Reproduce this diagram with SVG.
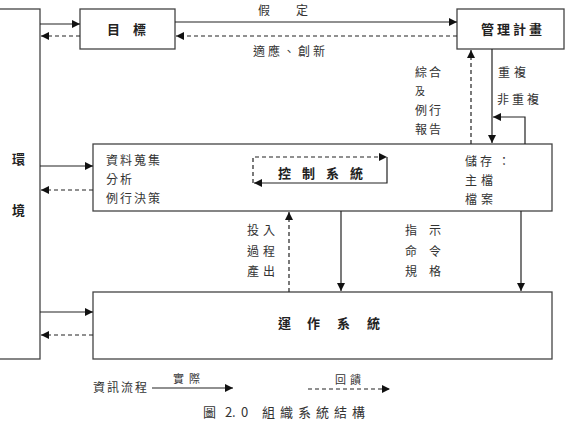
<svg xmlns="http://www.w3.org/2000/svg" width="567" height="421" viewBox="0 0 567 421">
<style>
.box{fill:#fff;stroke:#444;stroke-width:1.3}
.ln{stroke:#222;stroke-width:1.2;fill:none}
.dash{stroke-dasharray:4 3}
.t{font-family:"Noto Sans CJK TC","Noto Sans CJK SC",sans-serif;font-size:12px;fill:#333}
.b{font-weight:700;font-size:13px;fill:#222}
</style>
<defs>
<marker id="ah" viewBox="0 0 10 10" refX="10" refY="5" markerWidth="9" markerHeight="8" markerUnits="userSpaceOnUse" orient="auto"><path d="M0,0L10,5L0,10z" fill="#111"/></marker>
</defs>
<rect width="567" height="421" fill="#fff"/>
<g id="env"><rect class="box" x="-5" y="9" width="45" height="350"/><text class="t b" x="12" y="164">環</text><text class="t b" x="12" y="215">境</text></g>
<g id="goal"><rect class="box" x="80" y="9" width="95" height="40"/><text class="t b" x="107 133" y="34">目標</text></g>
<g id="plan"><rect class="box" x="457" y="9" width="107" height="40"/><text class="t b" x="481 497 513 529" y="34">管理計畫</text></g>
<g id="control"><rect class="box" x="93" y="144" width="459" height="67"/>
<text class="t" x="106 120 134 148" y="165">資料蒐集</text>
<text class="t" x="106 120" y="184">分析</text>
<text class="t" x="106 120 134 148" y="203">例行決策</text>
<text class="t b" x="278 302 326 350" y="178">控制系統</text>
<text class="t" x="465 480 498" y="166">儲存：</text>
<text class="t" x="465 481" y="185">主檔</text>
<text class="t" x="465 481" y="204">檔案</text>
</g>
<g id="operation"><rect class="box" x="93" y="292" width="459" height="67"/><text class="t b" x="278 307 337 367" y="328">運作系統</text></g>
<g id="connectors">
<path class="ln" d="M40,24H80" marker-end="url(#ah)"/>
<path class="ln dash" d="M80,36H41" marker-end="url(#ah)"/>
<path class="ln" d="M175,22H457" marker-end="url(#ah)"/>
<path class="ln dash" d="M457,36H176" marker-end="url(#ah)"/>
<path class="ln" d="M492,49V143" marker-end="url(#ah)"/>
<path class="ln" d="M525,144V117H493" marker-end="url(#ah)"/>
<path class="ln dash" d="M471,144V50" marker-end="url(#ah)"/>
<path class="ln" d="M40,166H93" marker-end="url(#ah)"/>
<path class="ln dash" d="M93,190H41" marker-end="url(#ah)"/>
<path class="ln" d="M341,211V291" marker-end="url(#ah)"/>
<path class="ln" d="M521,211V291" marker-end="url(#ah)"/>
<path class="ln dash" d="M289,292V212" marker-end="url(#ah)"/>
<path class="ln" d="M40,312H93" marker-end="url(#ah)"/>
<path class="ln dash" d="M93,335H41" marker-end="url(#ah)"/>
<path class="ln dash" d="M253,183V157H387" marker-end="url(#ah)"/>
<path class="ln" d="M387,157V183H254" marker-end="url(#ah)"/>
<path class="ln" d="M152,388H233" marker-end="url(#ah)"/>
<path class="ln dash" d="M308,389H390" marker-end="url(#ah)"/>
</g>
<g id="labels">
<text class="t" x="258 296" y="15">假定</text>
<text class="t" x="253 268 283 298 313" y="56">適應、創新</text>
<text class="t" x="415 429" y="77">綜合</text>
<text class="t" x="415" y="95" style="font-size:10px">及</text>
<text class="t" x="415 429" y="115">例行</text>
<text class="t" x="415 429" y="134">報告</text>
<text class="t" x="498 514" y="77">重複</text>
<text class="t" x="497 512 527" y="104">非重複</text>
<text class="t" x="247 263" y="235">投入</text>
<text class="t" x="247 263" y="256">過程</text>
<text class="t" x="247 263" y="276">產出</text>
<text class="t" x="405 429" y="235">指示</text>
<text class="t" x="405 429" y="256">命令</text>
<text class="t" x="405 429" y="276">規格</text>
<text class="t" x="93 107 121 135" y="392">資訊流程</text>
<text class="t" x="173 189" y="383" style="font-size:11px">實際</text>
<text class="t" x="335 350" y="384" style="font-size:11px">回饋</text>
<text class="t" x="203 225 232 241 262 280 298 316 334 352" y="417" style="font-size:13px">圖2.0組織系統結構</text>
</g>
</svg>
